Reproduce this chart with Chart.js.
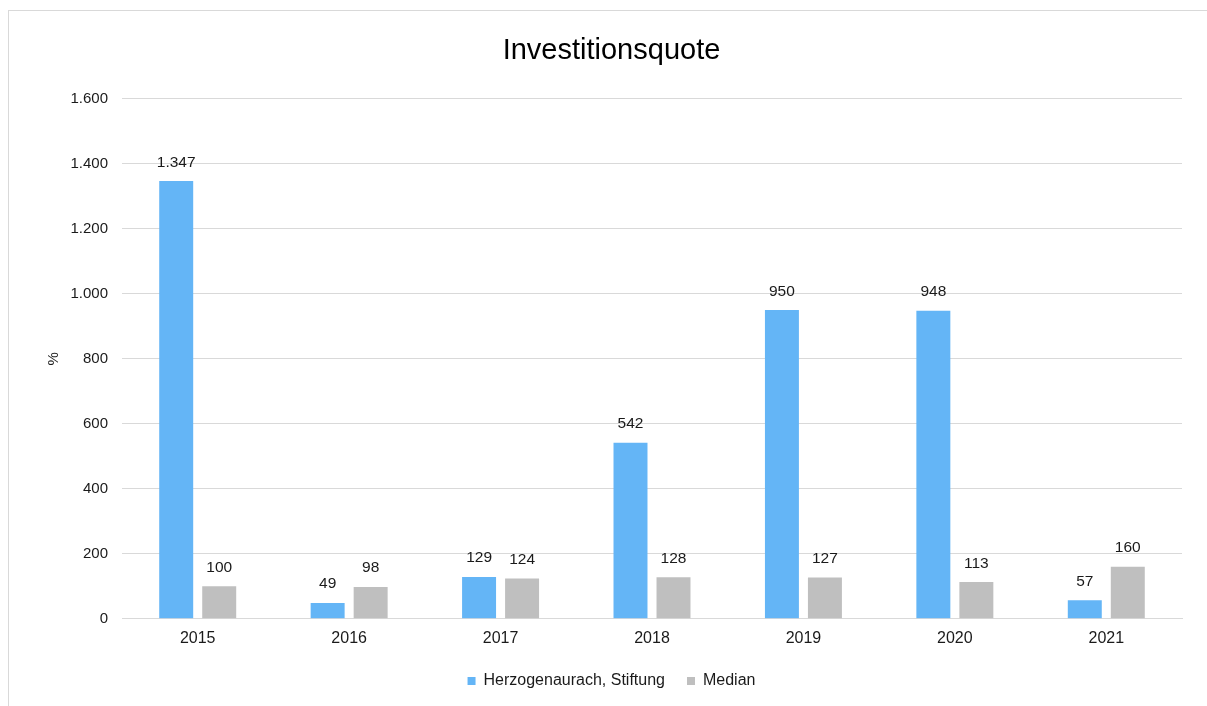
<!DOCTYPE html>
<html>
<head>
<meta charset="utf-8">
<script src="https://cdn.jsdelivr.net/npm/chart.js@4"></script>
<style>
  html, body { margin: 0; padding: 0; background: #fff; overflow: hidden; }
  #rahmen { position: absolute; left: 8px; top: 10px; width: 1220px; height: 720px; border: 1px solid #d9d9d9; }
  #box { position: absolute; left: 0; top: 0; width: 1207px; height: 706px; }
</style>
</head>
<body>
<div id="rahmen"></div>
<div id="box"><canvas id="grafico"></canvas></div>
<script>
var jahre = ['2015', '2016', '2017', '2018', '2019', '2020', '2021'];
var stiftung = [1347, 49, 129, 542, 950, 948, 57];
var median = [100, 98, 124, 128, 127, 113, 160];

function formatDe(n) {
    return String(Math.round(n)).replace(/\B(?=(\d{3})+(?!\d))/g, '.');
}

var etichette = {
    id: 'etichette',
    afterDatasetsDraw: function(chart) {
        var ctx = chart.ctx;
        ctx.save();
        ctx.font = '15.5px "Liberation Sans", Arial, sans-serif';
        ctx.fillStyle = '#1a1a1a';
        ctx.textAlign = 'center';
        ctx.textBaseline = 'bottom';
        chart.data.datasets.forEach(function(ds, i) {
            chart.getDatasetMeta(i).data.forEach(function(bar, j) {
                ctx.fillText(formatDe(ds.data[j]), bar.x, bar.y - 11);
            });
        });
        ctx.restore();
    }
};

Chart.defaults.font.family = '"Liberation Sans", Arial, sans-serif';
Chart.defaults.color = '#1a1a1a';

new Chart(document.getElementById('grafico'), {
    type: 'bar',
    data: {
        labels: jahre,
        datasets: [{
            label: 'Herzogenaurach, Stiftung',
            data: stiftung,
            backgroundColor: '#64b5f6',
            borderWidth: 0
        }, {
            label: 'Median',
            data: median,
            backgroundColor: '#bfbfbf',
            borderWidth: 0
        }]
    },
    options: {
        responsive: true,
        maintainAspectRatio: false,
        animation: false,
        categoryPercentage: 0.568,
        barPercentage: 0.79,
        layout: { padding: { left: 41, right: 25, top: 0, bottom: 7 } },
        plugins: {
            title: {
                display: true,
                text: 'Investitionsquote',
                color: '#000',
                font: { size: 29, weight: 'normal' },
                padding: { top: 34, bottom: 30 }
            },
            legend: {
                position: 'bottom',
                labels: { boxWidth: 8, boxHeight: 8, font: { size: 16 }, padding: 22 }
            },
            tooltip: { enabled: false }
        },
        scales: {
            x: {
                grid: { display: false },
                border: { color: '#d9d9d9' },
                ticks: { font: { size: 16 }, padding: 2.5 }
            },
            y: {
                min: 0,
                max: 1600,
                ticks: { stepSize: 200, font: { size: 15 }, padding: 14, callback: function(v) { return formatDe(v); } },
                grid: { color: '#d9d9d9', drawTicks: false },
                border: { display: false },
                title: { display: true, text: '%', font: { size: 15 }, padding: { bottom: 30 } },
                afterFit: function(scale) { scale.width = 122 - 41; }
            }
        }
    },
    plugins: [etichette]
});
</script>
</body>
</html>
